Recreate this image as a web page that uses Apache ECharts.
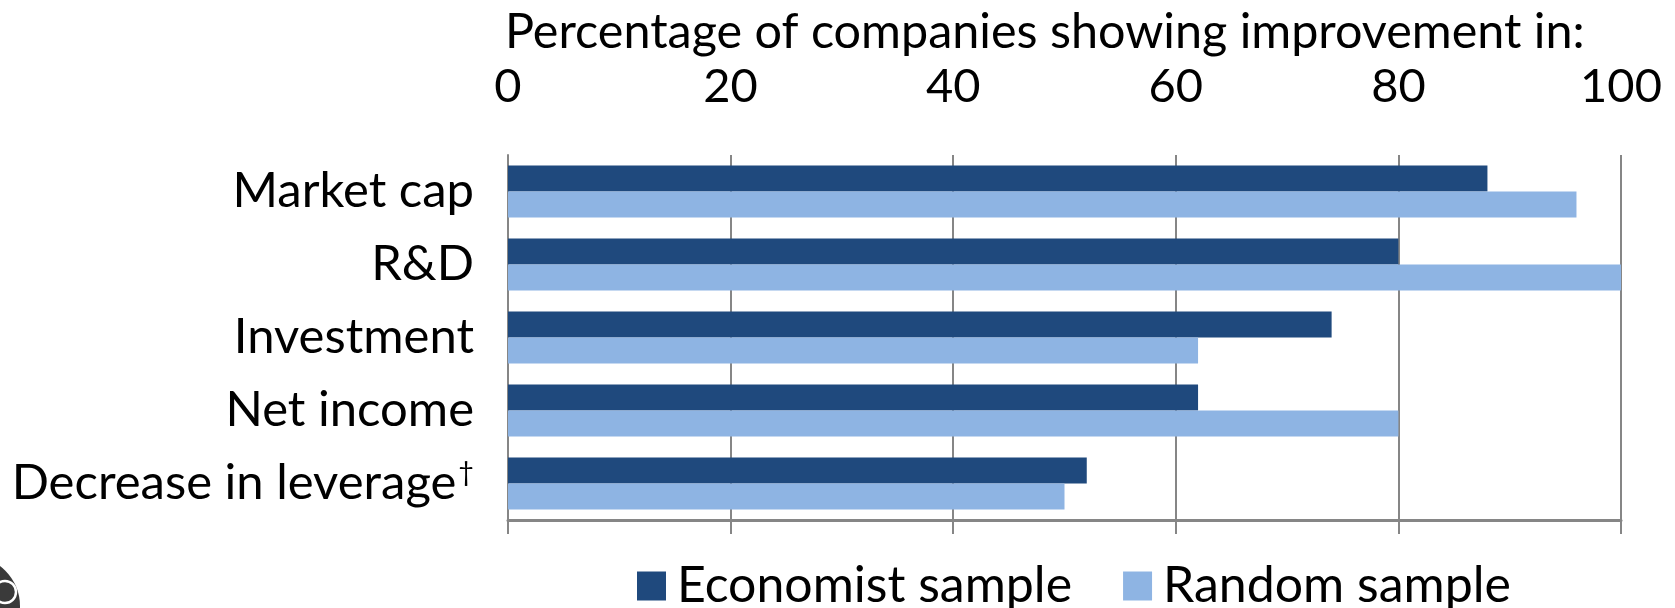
<!DOCTYPE html>
<html>
<head>
<meta charset="utf-8">
<script src="https://cdn.jsdelivr.net/npm/echarts@6/dist/echarts.min.js"></script>
<style>
html,body{margin:0;padding:0;background:#fff;}
#chart{width:1675px;height:608px;}
</style>
</head>
<body>
<div id="chart"></div>
<script>
const categories = ["Market cap", "R&D", "Investment", "Net income", "Decrease in leverage\u2020"];
const economistSample = [88, 80, 74, 62, 52];
const randomSample = [96, 100, 62, 80, 50];
const seriesNames = ["Economist sample", "Random sample"];
const titleText = "Percentage of companies showing improvement in:";

const FONT = "Lato";
const chart = echarts.init(document.getElementById('chart'));
chart.setOption({
  animation: false,
  backgroundColor: '#ffffff',
  textStyle: { fontFamily: FONT, color: '#000' },
  title: {
    text: titleText,
    left: 500, top: 3,
    textStyle: { fontFamily: FONT, fontSize: 48.5, fontWeight: 'normal', color: '#000' }
  },
  legend: {
    data: seriesNames,
    left: 632, top: 556,
    itemWidth: 29, itemHeight: 29, itemGap: 51,
    icon: 'rect',
    textStyle: { fontFamily: FONT, fontSize: 50, color: '#000', padding: [0,0,0,6] }
  },
  grid: { left: 508, right: 54, top: 155, bottom: 88 },
  xAxis: [
    {
      type: 'value', position: 'top', min: 0, max: 100, interval: 20,
      axisLine: { show: false }, axisTick: { show: false },
      axisLabel: { fontFamily: FONT, fontSize: 47, color: '#000', margin: 45 },
      splitLine: { show: true, lineStyle: { color: '#868686', width: 2 } }
    },
    {
      type: 'value', position: 'bottom', min: 0, max: 100, interval: 20,
      axisLine: { show: true, onZero: false, lineStyle: { color: '#868686', width: 3 } },
      axisTick: { show: true, length: 14, inside: false, lineStyle: { color: '#868686', width: 2 } },
      axisLabel: { show: false },
      splitLine: { show: false }
    }
  ],
  yAxis: {
    type: 'category', data: categories, inverse: true,
    axisLine: { show: true, lineStyle: { color: '#868686', width: 2 } },
    axisTick: { show: false },
    axisLabel: {
      fontFamily: FONT, fontSize: 49, color: '#000', margin: 34,
      formatter: function (v) { return v.replace('\u2020', '{sup|\u2020}'); },
      rich: { sup: { fontFamily: FONT, fontSize: 27, color: '#000', verticalAlign: 'top', padding: [0, 0, 20, 2] } }
    }
  },
  series: [
    {
      name: seriesNames[0], type: 'bar', xAxisIndex: 0, data: economistSample,
      barGap: '0%', barCategoryGap: '29%',
      itemStyle: { color: '#1F497D' }
    },
    {
      name: seriesNames[1], type: 'bar', xAxisIndex: 0, data: randomSample,
      barGap: '0%', barCategoryGap: '29%',
      itemStyle: { color: '#8EB4E3' }
    }
  ],
  graphic: [
    { type: 'circle', shape: { cx: -30, cy: 606, r: 50 }, style: { fill: '#3a3a3a' }, silent: true },
    { type: 'circle', shape: { cx: 5, cy: 592, r: 11 }, style: { fill: 'none', stroke: '#ffffff', lineWidth: 2.5 }, silent: true }
  ]
});
</script>
</body>
</html>
